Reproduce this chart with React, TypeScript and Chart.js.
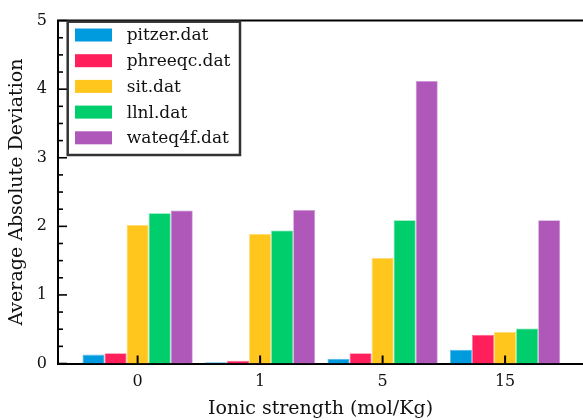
import React, { useEffect, useRef } from "react";
import { Chart, registerables } from "chart.js";

Chart.register(...registerables);

const categories = ["0", "1", "5", "15"];
const seriesNames = ["pitzer.dat", "phreeqc.dat", "sit.dat", "llnl.dat", "wateq4f.dat"];
const pitzer = [0.13, 0.02, 0.07, 0.2];
const phreeqc = [0.15, 0.04, 0.15, 0.42];
const sit = [2.02, 1.89, 1.54, 0.46];
const llnl = [2.19, 1.94, 2.09, 0.51];
const wateq4f = [2.23, 2.24, 4.12, 2.09];
const yTicks = [0, 1, 2, 3, 4, 5];

const colors = ["#009ADE", "#FF1F5B", "#FFC61E", "#00CD6C", "#AF58BA"];
const edgeColors = ["#5cbdea", "#ff6f93", "#ffdb70", "#5fe09f", "#cd96d5"];

const FONT = "'DejaVu Serif', 'Liberation Serif', serif";

const framePlugin = {
  id: "framePlugin",
  afterDraw(chart: any) {
    const { ctx, chartArea, scales } = chart;
    const x = scales.x;
    const y = scales.y;
    ctx.save();
    ctx.strokeStyle = "#000";
    // top frame line
    ctx.lineWidth = 2;
    ctx.beginPath();
    ctx.moveTo(chartArea.left - 1, chartArea.top);
    ctx.lineTo(chart.width, chartArea.top);
    ctx.stroke();
    // y ticks inward
    ctx.lineWidth = 1.6;
    for (let v = 0; v <= 5.0001; v += 0.25) {
      const py = y.getPixelForValue(v);
      const major = Math.abs(v - Math.round(v)) < 1e-6;
      const len = major ? 9 : 5;
      ctx.beginPath();
      ctx.moveTo(chartArea.left, py);
      ctx.lineTo(chartArea.left + len, py);
      ctx.stroke();
    }
    // x ticks inward
    ctx.lineWidth = 2;
    for (let i = 0; i < categories.length; i++) {
      const px = x.getPixelForValue(i);
      ctx.beginPath();
      ctx.moveTo(px, chartArea.bottom);
      ctx.lineTo(px, chartArea.bottom - 8);
      ctx.stroke();
    }
    // legend
    const lx = 67.7, ly = 21.7, lw = 172.3, lh = 133.3;
    ctx.fillStyle = "#fff";
    ctx.fillRect(lx, ly, lw, lh);
    ctx.lineWidth = 2.5;
    ctx.strokeStyle = "#333";
    ctx.strokeRect(lx, ly, lw, lh);
    ctx.font = `17px ${FONT}`;
    ctx.textBaseline = "middle";
    ctx.textAlign = "left";
    chart.data.datasets.forEach((ds: any, i: number) => {
      const cy = 35 + i * 25.7;
      ctx.fillStyle = ds.backgroundColor;
      ctx.fillRect(75, cy - 6.5, 37, 13);
      ctx.fillStyle = "#111";
      ctx.fillText(ds.label, 126.7, cy + 1);
    });
    ctx.restore();
  },
};

export default function App() {
  const ref = useRef<HTMLCanvasElement>(null);
  useEffect(() => {
    if (!ref.current) return;
    const series = [pitzer, phreeqc, sit, llnl, wateq4f];
    const chart = new Chart(ref.current, {
      type: "bar",
      data: {
        datasets: series.map((s, i) => ({
          label: seriesNames[i],
          data: s.map((v, j) => ({ x: j, y: v })),
          backgroundColor: colors[i],
          borderColor: edgeColors[i],
          borderWidth: 0.8,
          categoryPercentage: 0.9,
          barPercentage: 1.0,
        })),
      },
      options: {
        responsive: false,
        animation: false,
        layout: { padding: { top: 12.5, left: 0, right: 0, bottom: 0 } },
        plugins: { legend: { display: false }, tooltip: { enabled: false } },
        scales: {
          x: {
            type: "linear",
            offset: false,
            min: -0.65,
            max: 3.636,
            grid: { display: false, drawTicks: false, offset: false },
            border: { display: true, color: "#000", width: 2 },
            afterBuildTicks: (scale: any) => {
              scale.ticks = categories.map((_, i) => ({ value: i }));
            },
            afterFit: (scale: any) => {
              scale.height = 56.5;
            },
            ticks: {
              autoSkip: false,
              maxRotation: 0,
              padding: 9,
              color: "#111",
              font: { family: FONT, size: 16 },
              callback: (v: any) => categories[v] ?? "",
            },
            title: {
              display: true,
              text: "Ionic strength (mol/Kg)",
              color: "#111",
              font: { family: FONT, size: 19 },
              padding: { top: 0, bottom: 0 },
            },
          },
          y: {
            type: "linear",
            min: 0,
            max: 5,
            grid: { display: false, drawTicks: false },
            border: { display: true, color: "#000", width: 2 },
            afterBuildTicks: (scale: any) => {
              scale.ticks = yTicks.map((v) => ({ value: v }));
            },
            afterFit: (scale: any) => {
              scale.width = 58;
            },
            ticks: {
              padding: 11,
              color: "#111",
              font: { family: FONT, size: 16 },
              callback: (v: any) => String(v),
            },
            title: {
              display: true,
              text: "Average Absolute Deviation",
              color: "#111",
              font: { family: FONT, size: 19 },
              padding: { top: 6, bottom: 0 },
            },
          },
        },
      },
      plugins: [framePlugin],
    });
    return () => chart.destroy();
  }, []);
  return (
    <div style={{ position: "fixed", left: 0, top: 0, width: 583, height: 420, background: "#fff" }}>
      <canvas ref={ref} width={583} height={420} style={{ display: "block" }} />
    </div>
  );
}
